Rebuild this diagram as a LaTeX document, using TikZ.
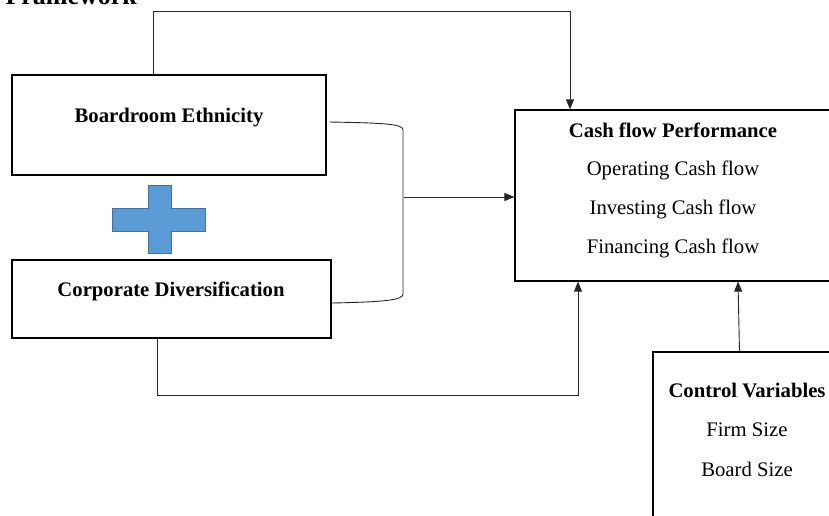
\documentclass[tikz,border=0pt]{standalone}
\usepackage{fontspec}
\setmainfont{Liberation Serif}
\usetikzlibrary{arrows.meta}
\definecolor{plusfill}{HTML}{5B9BD5}
\definecolor{plusedge}{HTML}{41719C}

\begin{document}
\begin{tikzpicture}[x=1pt,y=-1pt,-{Triangle[length=10pt,width=8pt]}]
	\useasboundingbox (0,0) rectangle (829,516);
	\clip (0,0) rectangle (829,516);
	\node[anchor=base west, font=\fontsize{26}{30}\selectfont\bfseries] (title) at (2,5) {Framework};
	\fontsize{20.7}{24}\selectfont
	\tikzstyle{block}=[draw=black, line width=1.2pt, inner sep=0pt]
	\tikzstyle{link}=[draw=black!85, line width=0.9pt]
	% left side
	\node[block, minimum width=314pt, minimum height=100pt] (boardroom) at (169,125) {};
	\node (boardroomtxt) at (169,118) {\textbf{Boardroom Ethnicity}};
	\node[block, minimum width=319pt, minimum height=78pt] (diversification) at (171.5,299) {};
	\node (diversificationtxt) at (171,291) {\textbf{Corporate Diversification}};
	\draw[-, fill=plusfill, draw=plusedge, line width=1pt] (148,185) -- (171,185) -- (171,208) -- (205,208) -- (205,231) -- (171,231) -- (171,253) -- (148,253) -- (148,231) -- (112,231) -- (112,208) -- (148,208) -- cycle;
	% right side
	\node[block, minimum width=320pt, minimum height=171pt] (cashflow) at (675,195.5) {};
	\foreach \i/\y/\txt in {1/130/{\textbf{Cash flow Performance}},2/170/{Operating Cash flow},3/209/{Investing Cash flow},4/248/{Financing Cash flow}} {
	    \node (cf\i) at (673,\y) {\txt};
	}
	\node[block, minimum width=187pt, minimum height=180pt] (control) at (746.5,442) {};
	\foreach \i/\y/\txt in {1/390/{\textbf{Control Variables}},2/430/{Firm Size},3/469/{Board Size}} {
	    \node (cv\i) at (747,\y) {\txt};
	}
	% connectors
	\coordinate (join) at (404,197);
	\draw[link, -] ([xshift=3pt,yshift=3pt]boardroom.east) .. controls (385,123) and (403,124) .. (403,130) -- (403,294) .. controls (403,300) and (385,302) .. ([yshift=-4pt]diversification.east);
	\draw[link] (join) -- (cashflow.west |- join);
	\draw[link] ([xshift=-16pt]boardroom.north) -- ++(0,-63) -| ([xshift=-105pt]cashflow.north);
	\draw[link] ([xshift=-14.5pt]diversification.south) -- ++(0,57) -| ([xshift=-97pt]cashflow.south);
	\draw[link] ([xshift=-7pt]control.north) -- ([xshift=63pt]cashflow.south);
\end{tikzpicture}
\end{document}
